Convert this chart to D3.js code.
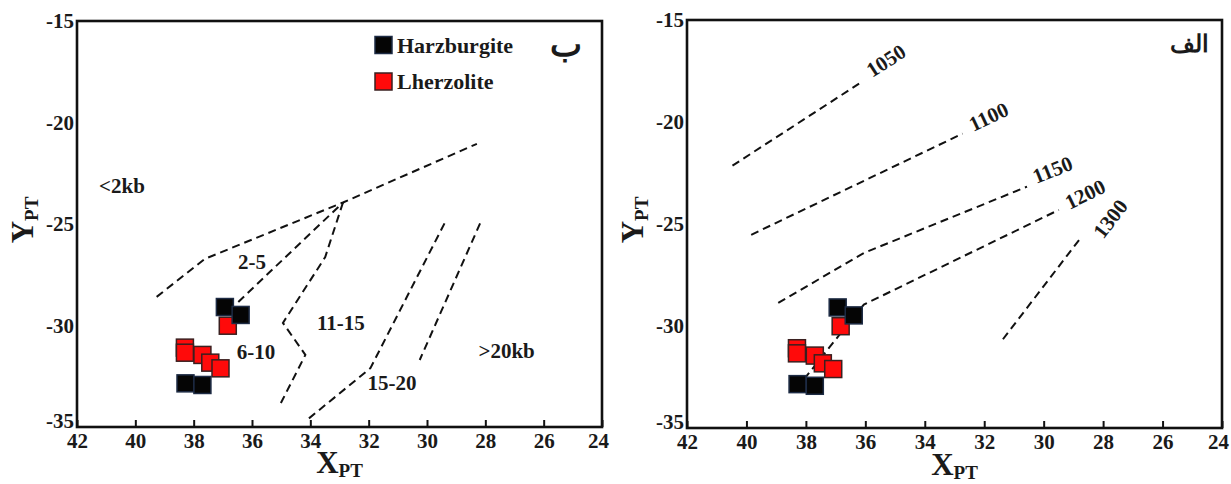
<!DOCTYPE html>
<html>
<head>
<meta charset="utf-8">
<script src="https://cdn.jsdelivr.net/npm/d3@7"></script>
<style>
  html, body { margin: 0; padding: 0; background: #fff; }
  svg { display: block; }
  text { font-family: "Liberation Serif", "Times New Roman", serif; font-weight: bold; fill: #1a1a1a; }
</style>
</head>
<body>
<svg id="chart" width="1231" height="484"></svg>
<script>
// Axis ticks (shared by both panels)
const xTicks = [42, 40, 38, 36, 34, 32, 30, 28, 26, 24];
const yTicks = [-15, -20, -25, -30, -35];

// Samples
const harzX = [36.93, 36.39, 38.28, 37.70];
const harzY = [-29.09, -29.48, -32.85, -32.93];
const lherzX = [38.30, 38.30, 37.70, 37.43, 37.08, 36.83];
const lherzY = [-31.09, -31.34, -31.45, -31.83, -32.11, -30.01];

// Pressure fields (kbar) – boundary lines
const pUpper = [[39.27, -28.59], [37.62, -26.72], [32.88, -23.94], [28.29, -21.05]];
const p2to5 = [[36.47, -28.84], [32.88, -23.94]];
const p6to10 = [[32.88, -23.94], [33.49, -26.63], [34.94, -29.87], [34.17, -31.45], [35.01, -33.82]];
const p11to15 = [[29.40, -24.97], [31.94, -32.10], [34.17, -34.72]];
const p15to20 = [[28.18, -24.97], [30.25, -31.70]];
const pressureLines = [pUpper, p2to5, p6to10, p11to15, p15to20];
const pressureLabels = ["<2kb", "2-5", "6-10", "11-15", "15-20", ">20kb"];
const pressureLabelX = [40.46, 36.0, 35.86, 32.95, 31.2, 27.27];
const pressureLabelY = [-23.12, -26.88, -31.29, -29.9, -32.84, -31.24];

// Temperature isotherms (°C)
const t1050 = [[40.47, -22.14], [36.21, -18.12]];
const t1100 = [[39.84, -25.53], [32.73, -20.57]];
const t1150 = [[38.93, -28.87], [36.05, -26.42], [30.56, -23.17]];
const t1200 = [[38.06, -32.61], [36.86, -30.41], [36.05, -28.95], [29.49, -24.31]];
const t1300 = [[31.37, -30.65], [28.76, -25.69]];
const isotherms = [t1050, t1100, t1150, t1200, t1300];
const isoLabels = ["1050", "1100", "1150", "1200", "1300"];
const isoLabelX = [35.3, 31.85, 29.7, 28.6, 27.75];
const isoLabelY = [-17.0, -19.75, -22.35, -23.55, -24.75];

const seriesNames = ["Harzburgite", "Lherzolite"];
const seriesFill = ["#050505", "#ff0a0a"];
const seriesStroke = ["#1d2b44", "#3a2020"];

const svg = d3.select("#chart");
const fmt = d => String(d);

function styleText(sel, size) {
  sel.attr("font-size", size)
    .attr("fill", "#161616")
    .attr("font-weight", "bold")
    .attr("font-family", '"Liberation Serif", "Times New Roman", serif');
}

function drawPanel(box, opts) {
  const x = d3.scaleLinear().domain([42, 24]).range([box.left, box.right]);
  const y = d3.scaleLinear().domain([-35, -15]).range([box.bottom, box.top]);
  const g = svg.append("g");

  // x axis: inward ticks, labels below
  g.append("g")
    .attr("transform", `translate(0,${box.bottom})`)
    .call(d3.axisBottom(x).tickValues(xTicks).tickSizeInner(-7).tickSizeOuter(0).tickPadding(6).tickFormat(fmt))
    .call(a => a.select(".domain").remove())
    .call(a => a.selectAll("line").attr("stroke", "#111").attr("stroke-width", 2))
    .call(a => styleText(a.selectAll("text"), 21))
    .call(a => a.selectAll("text").filter(d => d === 24).attr("dx", -4));

  // y axis: labels only (the bottom one sits a little higher, clear of the x labels)
  g.append("g")
    .attr("transform", `translate(${box.left},0)`)
    .call(d3.axisLeft(y).tickValues(yTicks).tickSize(0).tickPadding(3).tickFormat(fmt))
    .call(a => a.select(".domain").remove())
    .call(a => styleText(a.selectAll("text"), 21))
    .call(a => a.selectAll("text").filter(d => d === -35).attr("y", -6));

  // frame
  g.append("rect")
    .attr("x", box.left).attr("y", box.top)
    .attr("width", box.right - box.left).attr("height", box.bottom - box.top)
    .attr("fill", "none").attr("stroke", "#111").attr("stroke-width", 2.6);

  const line = d3.line().x(d => x(d[0])).y(d => y(d[1]));

  g.selectAll("path.field")
    .data(opts.lines)
    .join("path")
    .attr("class", "field")
    .attr("d", line)
    .attr("fill", "none")
    .attr("stroke", "#111")
    .attr("stroke-width", 2)
    .attr("stroke-dasharray", "8,5");

  // line / region labels
  opts.labels.forEach((t, i) => {
    const px = x(opts.labelX[i]), py = y(opts.labelY[i]);
    const txt = g.append("text")
      .attr("x", px).attr("y", py)
      .attr("text-anchor", "middle")
      .attr("dominant-baseline", "central")
      .text(t);
    styleText(txt, 21);
    if (opts.rotateWith) {
      const seg = opts.rotateWith[i];
      const a = seg[seg.length - 2], b = seg[seg.length - 1];
      const ang = Math.atan2(y(b[1]) - y(a[1]), x(b[0]) - x(a[0])) * 180 / Math.PI;
      txt.attr("transform", `rotate(${ang},${px},${py})`);
    }
  });

  // samples: lherzolite under harzburgite
  const groups = [
    { xs: lherzX, ys: lherzY, k: 1 },
    { xs: harzX, ys: harzY, k: 0 }
  ];
  const s = 17;
  groups.forEach(grp => {
    g.selectAll(null)
      .data(grp.xs.map((v, i) => [v, grp.ys[i]]))
      .join("rect")
      .attr("x", d => x(d[0]) - s / 2)
      .attr("y", d => y(d[1]) - s / 2)
      .attr("width", s).attr("height", s)
      .attr("fill", seriesFill[grp.k])
      .attr("stroke", seriesStroke[grp.k])
      .attr("stroke-width", 1.5);
  });

  // axis titles
  const xt = g.append("text")
    .attr("x", (box.left + box.right) / 2)
    .attr("y", opts.xTitleY)
    .attr("text-anchor", "middle");
  styleText(xt, 31);
  xt.append("tspan").text("X");
  xt.append("tspan").attr("font-size", 19).attr("dy", 4).text("PT");

  const yt = g.append("text")
    .attr("transform", `translate(${opts.yTitleX},${(box.top + box.bottom) / 2 - 4}) rotate(-90)`)
    .attr("text-anchor", "middle");
  styleText(yt, 31);
  yt.append("tspan").text("Y");
  yt.append("tspan").attr("font-size", 19).attr("dy", 5).text("PT");

  // panel letter
  g.append("text")
    .attr("x", opts.letterX).attr("y", 44)
    .attr("text-anchor", "middle")
    .attr("dominant-baseline", "central")
    .attr("font-size", opts.letterSize)
    .attr("font-weight", "bold")
    .attr("fill", "#111")
    .attr("font-family", '"DejaVu Sans", "Noto Sans", sans-serif')
    .text(opts.letter);

  return { g, x, y };
}

// Left panel: pressure fields
const left = drawPanel(
  { left: 77, right: 602, top: 21, bottom: 427 },
  {
    lines: pressureLines,
    labels: pressureLabels, labelX: pressureLabelX, labelY: pressureLabelY,
    xTitleY: 473, yTitleX: 33, letter: "ب", letterX: 566, letterSize: 34
  }
);

// legend
const legendY = [45, 81.5];
seriesNames.forEach((name, i) => {
  left.g.append("rect")
    .attr("x", 375).attr("y", legendY[i] - 8.5)
    .attr("width", 17).attr("height", 17)
    .attr("fill", seriesFill[i]).attr("stroke", seriesStroke[i]).attr("stroke-width", 1.5);
  const t = left.g.append("text")
    .attr("x", 397).attr("y", legendY[i])
    .attr("dominant-baseline", "central")
    .text(name);
  styleText(t, 22);
});

// Right panel: isotherms
drawPanel(
  { left: 687, right: 1222, top: 20, bottom: 428 },
  {
    lines: isotherms,
    labels: isoLabels, labelX: isoLabelX, labelY: isoLabelY, rotateWith: isotherms,
    xTitleY: 475, yTitleX: 643, letter: "الف", letterX: 1189, letterSize: 24
  }
);
</script>
</body>
</html>
